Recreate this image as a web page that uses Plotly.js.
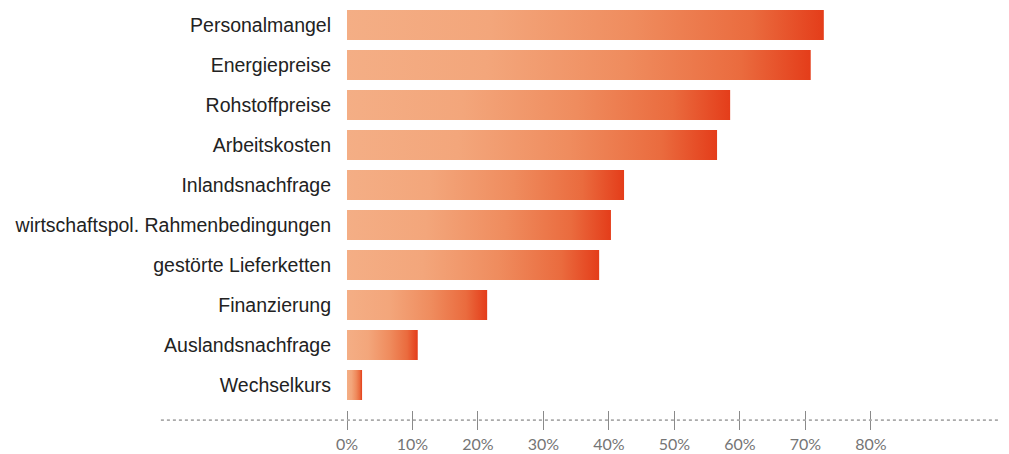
<!DOCTYPE html>
<html><head><meta charset="utf-8">
<script src="https://cdn.plot.ly/plotly-3.0.1.min.js"></script>
<style>html,body{margin:0;padding:0;background:#fff}</style>
</head><body>
<div id="chart" style="width:1009px;height:454px"></div>
<script>
const categories = ["Personalmangel","Energiepreise","Rohstoffpreise","Arbeitskosten","Inlandsnachfrage","wirtschaftspol. Rahmenbedingungen","gestörte Lieferketten","Finanzierung","Auslandsnachfrage","Wechselkurs"];
const values = [72.8, 70.8, 58.5, 56.5, 42.3, 40.3, 38.5, 21.4, 10.8, 2.3];
const tickValues = [0,10,20,30,40,50,60,70,80];
const tickLabels = ["0%","10%","20%","30%","40%","50%","60%","70%","80%"];

const trace = {
  type: 'bar', orientation: 'h',
  x: values, y: categories,
  marker: {color: '#F09467', line: {width: 0}},
  hoverinfo: 'none'
};
const layout = {
  width: 1009, height: 454,
  margin: {l: 347, r: 9, t: 5, b: 44},
  paper_bgcolor: '#fff', plot_bgcolor: '#fff',
  bargap: 0.25,
  showlegend: false,
  xaxis: {
    range: [0, 99.7], showgrid: false, zeroline: false, showline: false,
    tickmode: 'array', tickvals: tickValues, ticktext: tickLabels,
    ticks: 'outside', ticklen: 19, tickwidth: 1, tickcolor: '#8a8a8a',
    ticklabelstandoff: 1,
    tickfont: {family: 'Lato, "DejaVu Sans", sans-serif', weight: 400, size: 16, color: '#757575'}
  },
  yaxis: {
    type: 'category', categoryorder: 'array', categoryarray: categories,
    range: [9.625, -0.5], showgrid: false, zeroline: false, showline: false,
    ticks: '', ticklabelstandoff: 15,
    tickfont: {family: '"Liberation Sans", Arial, sans-serif', size: 19.5, color: '#222'}
  },
  shapes: [{
    type: 'line', xref: 'paper', yref: 'paper',
    x0: -0.285, x1: 1, y0: -0.025, y1: -0.025,
    line: {color: '#aaa', width: 1.6, dash: 'dot'}
  }]
};
Plotly.newPlot('chart', [trace], layout, {displayModeBar: false, staticPlot: true}).then(function(gd){
  const svg = gd.querySelector('svg.main-svg');
  const ns = 'http://www.w3.org/2000/svg';
  let defs = svg.querySelector('defs');
  if (!defs) { defs = document.createElementNS(ns, 'defs'); svg.insertBefore(defs, svg.firstChild); }
  const grad = document.createElementNS(ns, 'linearGradient');
  grad.setAttribute('id', 'barGrad');
  grad.setAttribute('x1', '0'); grad.setAttribute('x2', '1');
  grad.setAttribute('y1', '0'); grad.setAttribute('y2', '0');
  [[0,'#F4AE85'],[0.3,'#F3A67B'],[0.6,'#EF8C5E'],[0.85,'#EA6B3E'],[1,'#E43D1A']].forEach(function(s){
    const st = document.createElementNS(ns, 'stop');
    st.setAttribute('offset', s[0]); st.setAttribute('stop-color', s[1]);
    grad.appendChild(st);
  });
  defs.appendChild(grad);
  gd.querySelectorAll('g.trace.bars path').forEach(function(p){
    p.style.fill = 'url(#barGrad)';
  });
});
</script>
</body></html>
